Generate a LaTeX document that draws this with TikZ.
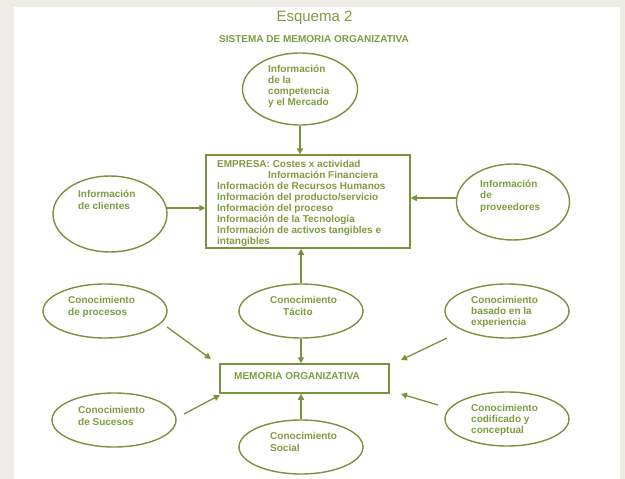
\documentclass[tikz,border=0pt]{standalone}
\usepackage{fontspec}
\setmainfont{Liberation Sans}
\usepackage{xcolor}
\usetikzlibrary{
    calc,
    arrows.meta,
    shapes.geometric
}
\definecolor{oliva}{HTML}{77933C}
\definecolor{olivatxt}{HTML}{7E9C40}
\definecolor{fondo}{HTML}{EDEDE5}
\tikzset{
    elipse/.style={draw=oliva,line width=1.4pt,ellipse,inner sep=0pt,
        minimum width=124pt,minimum height=54pt},
    caja/.style={draw=oliva,line width=1.5pt,rectangle,inner sep=0pt},
    texto/.style={text=olivatxt,align=left,inner sep=0pt,anchor=north west,
        font=\bfseries\fontsize{10}{11.5}\selectfont},
    flecha/.style={draw=oliva,line width=1.3pt,-{Triangle[length=6pt,width=6pt]}}
}

\begin{document}
\begin{tikzpicture}[x=1pt,y=-1pt]
    \fill[fondo] (0,0) rectangle (625,479);
    \fill[white] (14,7) rectangle (620,479);
    \useasboundingbox (0,0) rectangle (625,479);

    \draw (314.5,18) node[text=olivatxt,inner sep=0pt,font=\fontsize{15}{15}\selectfont](tit){Esquema 2};
    \draw (314,39) node[texto,anchor=center](sub){SISTEMA DE MEMORIA ORGANIZATIVA};

    \begin{scope}
        % empresa y su entorno
        \draw (300,89)  node[elipse,minimum width=115pt,minimum height=72pt](comp){};
        \draw (110,214) node[elipse,minimum width=114pt,minimum height=76pt](cli){};
        \draw (513,202) node[elipse,minimum width=113pt,minimum height=76pt](prov){};
        \draw (308,201.5) node[caja,minimum width=204pt,minimum height=93pt](emp){};

        \draw (268,64.5) node[texto,font=\bfseries\fontsize{10}{11.3}\selectfont](comp-t){Información\\de la\\competencia\\y el Mercado};
        \draw (78,189.5) node[texto,font=\bfseries\fontsize{10}{12}\selectfont](cli-t){Información\\de clientes};
        \draw (480,179.5) node[texto](prov-t){Información\\de\\proveedores};
        \draw (217,160.5) node[texto,font=\bfseries\fontsize{10}{10.9}\selectfont](emp-t){EMPRESA: Costes x actividad\\
            \hspace{51pt}Información Financiera\\
            Información de Recursos Humanos\\
            Información del producto/servicio\\
            Información del proceso\\
            Información de la Tecnología\\
            Información de activos tangibles e\\
            intangibles};

        \draw[flecha] (comp.south) -- (comp.south |- emp.north);
        \draw[flecha] (cli.6) -- (cli.6 -| emp.west);
        \draw[flecha] (prov.176) -- (prov.176 -| emp.east);
    \end{scope}

    \begin{scope}
        % conocimientos que alimentan la memoria
        \draw (105,311) node[elipse](proc){};
        \draw (301,311) node[elipse](tac){};
        \draw (507,311) node[elipse](exp){};
        \draw (114,420) node[elipse](suc){};
        \draw (301,447) node[elipse](soc){};
        \draw (507,419) node[elipse](cod){};
        \draw (304.5,378.5) node[caja,minimum width=169pt,minimum height=29pt](mem){};

        \draw (68,296.5) node[texto,font=\bfseries\fontsize{10}{12}\selectfont](proc-t){Conocimiento\\de procesos};
        \draw (270,296.5) node[texto,font=\bfseries\fontsize{10}{12}\selectfont](tac-t){Conocimiento\\\hspace{13pt}Tácito};
        \draw (471,296.5) node[texto,font=\bfseries\fontsize{10}{10.6}\selectfont](exp-t){Conocimiento\\basado en la\\experiencia};
        \draw (78,406.5) node[texto,font=\bfseries\fontsize{10}{12}\selectfont](suc-t){Conocimiento\\de Sucesos};
        \draw (270,432.5) node[texto,font=\bfseries\fontsize{10}{12}\selectfont](soc-t){Conocimiento\\Social};
        \draw (471,404.5) node[texto,font=\bfseries\fontsize{10}{11}\selectfont](cod-t){Conocimiento\\codificado y\\conceptual};
        \draw (234,376.5) node[texto,anchor=west](mem-t){MEMORIA ORGANIZATIVA};

        \coordinate (proc-a) at (167,327);
        \coordinate (proc-b) at (211,359);
        \coordinate (suc-a)  at (184,414);
        \coordinate (suc-b)  at (220,395);
        \coordinate (exp-a)  at (447,338);
        \coordinate (exp-b)  at (401,360);
        \coordinate (cod-a)  at (438,405);
        \coordinate (cod-b)  at (401,394);

        \draw[flecha] (tac.north) -- (tac.north |- emp.south);
        \draw[flecha] (tac.south) -- (tac.south |- mem.north);
        \draw[flecha] (soc.north) -- (soc.north |- mem.south);
        \draw[flecha] (proc-a) -- (proc-b);
        \draw[flecha] (suc-a) -- (suc-b);
        \draw[flecha] (exp-a) -- (exp-b);
        \draw[flecha] (cod-a) -- (cod-b);
    \end{scope}
\end{tikzpicture}
\end{document}
